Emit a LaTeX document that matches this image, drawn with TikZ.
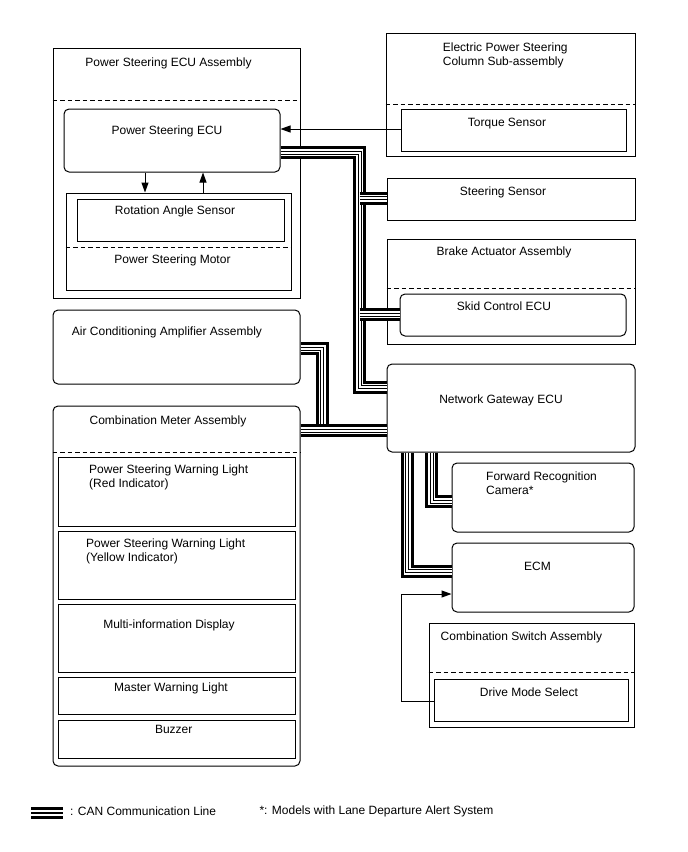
\documentclass[tikz,border=0pt]{standalone}
\usepackage{fontspec}
\setmainfont{Liberation Sans}
\usetikzlibrary{positioning,arrows.meta,calc}

\begin{document}
\begin{tikzpicture}[x=1pt, y=-1pt,
  every node/.style={font=\fontsize{12}{14}\selectfont},
  box/.style   ={draw, line width=1pt, inner sep=0pt},
  rbox/.style  ={box, rounded corners=5pt},
  txt/.style   ={inner sep=0pt},
  txtl/.style  ={inner sep=0pt, align=left, anchor=north west},
  sepline/.style={line width=1pt, dash pattern=on 4.5pt off 3pt},
  arr/.style   ={-{Triangle[length=10pt,width=7pt]}, line width=1pt},
  canline/.style={line width=13pt, black,
                  postaction={draw=white, line width=7pt},
                  postaction={draw=black, line width=4pt},
                  postaction={draw=white, line width=2pt}},
  canlegend/.style={line width=12pt, black,
                  postaction={draw=white, line width=6.5pt},
                  postaction={draw=black, line width=1.3pt}}]

\useasboundingbox (0,0) rectangle (688,852);

%% ── Power steering ECU assembly ─────────────────────────────────
\node[box,  minimum width=247pt, minimum height=250pt] (psa)   at (176.5,173) {};
\node[rbox, minimum width=216pt, minimum height=63pt]  (psecu) at (172,140.5) {};
\node[box,  minimum width=225pt, minimum height=97pt]  (psm)   at (178.5,241.5) {};
\node[box,  minimum width=207pt, minimum height=42pt]  (ras)   at (180.5,220) {};
\draw[sepline] (psa.west |- 0,100) -- (psa.east |- 0,100);
\draw[sepline] (psm.west |- 0,247) -- (psm.east |- 0,247);
\node[txt] (psaT)   at (168.5,63)  {Power Steering ECU Assembly};
\node[txt] (psecuT) at (167,131.5) {Power Steering ECU};
\node[txt] (rasT)   at (175,211.5) {Rotation Angle Sensor};
\node[txt] (psmT)   at (172.5,260) {Power Steering Motor};

%% ── Right column ────────────────────────────────────────────────
\node[box,  minimum width=249pt, minimum height=123pt] (eps)  at (510.5,94.5) {};
\node[box,  minimum width=225pt, minimum height=42pt]  (tqs)  at (513.5,130) {};
\draw[sepline] (eps.west |- 0,104) -- (eps.east |- 0,104);
\node[txtl] (epsT) at (442.7,42.4) {Electric Power Steering\\Column Sub-assembly};
\node[txt]  (tqsT) at (507,123.3)  {Torque Sensor};

\node[box,  minimum width=248pt, minimum height=42pt]  (ss)   at (511,199) {};
\node[txt]  (ssT)  at (503,192.7)  {Steering Sensor};

\node[box,  minimum width=248pt, minimum height=105pt] (baa)  at (511,291.5) {};
\node[rbox, minimum width=226pt, minimum height=42pt]  (skid) at (513,315) {};
\draw[sepline] (baa.west |- 0,288) -- (baa.east |- 0,288);
\node[txt]  (baaT)  at (504,252.7) {Brake Actuator Assembly};
\node[txt]  (skidT) at (504,306.7) {Skid Control ECU};

\node[rbox, minimum width=248pt, minimum height=88pt]  (gw)   at (511,408) {};
\node[txt]  (gwT)  at (501,400.7)  {Network Gateway ECU};

\node[rbox, minimum width=182pt, minimum height=69pt]  (cam)  at (543,497.5) {};
\node[txtl] (camT) at (486,471.7)  {Forward Recognition\\Camera*};

\node[rbox, minimum width=182pt, minimum height=69pt]  (ecm)  at (543,577.5) {};
\node[txt]  (ecmT) at (537.5,566.7) {ECM};

\node[box,  minimum width=205pt, minimum height=104pt] (csa)  at (531.5,675) {};
\node[box,  minimum width=194pt, minimum height=42pt]  (dms)  at (531,700) {};
\draw[sepline] (csa.west |- 0,672.7) -- (csa.east |- 0,672.7);
\node[txt]  (csaT) at (521.4,637.3) {Combination Switch Assembly};
\node[txt]  (dmsT) at (529,692.7)   {Drive Mode Select};

%% ── Left column, lower part ─────────────────────────────────────
\node[rbox, minimum width=247pt, minimum height=74pt]  (aca)  at (176.5,347) {};
\node[txt]  (acaT) at (167,332) {Air Conditioning Amplifier Assembly};

\node[rbox, minimum width=247pt, minimum height=360pt] (cma)  at (176.5,586) {};
\draw[sepline] (cma.west |- 0,452.3) -- (cma.east |- 0,452.3);
\node[txt]  (cmaT) at (168,421.7) {Combination Meter Assembly};

\node[box, minimum width=237pt, minimum height=69pt] (red) at (176.5,491.5) {};
\node[box, minimum width=237pt, minimum height=68pt] (yel) at (176.5,565) {};
\node[box, minimum width=237pt, minimum height=68pt] (mid) at (176.5,638) {};
\node[box, minimum width=237pt, minimum height=37pt] (mwl) at (176.5,695.5) {};
\node[box, minimum width=237pt, minimum height=38pt] (buz) at (176.5,739) {};
\node[txtl] (redT) at (89,464.7) {Power Steering Warning Light\\(Red Indicator)};
\node[txtl] (yelT) at (86,539)   {Power Steering Warning Light\\(Yellow Indicator)};
\node[txt]  (midT) at (169,625)   {Multi-information Display};
\node[txt]  (mwlT) at (171,688.3) {Master Warning Light};
\node[txt]  (buzT) at (173.7,729.3) {Buzzer};

%% ── Signal arrows ───────────────────────────────────────────────
\coordinate (dn)   at (145,0);
\coordinate (up)   at (203,0);
\coordinate (tq)   at (0,129);
\coordinate (drvA) at (401,594);
\coordinate (drvB) at (401,701.7);
\draw[arr] (psecu.south -| dn) -- (psm.north -| dn);
\draw[arr] (psm.north -| up) -- (psecu.south -| up);
\draw[arr] (tqs.west |- tq) -- (psecu.east |- tq);
\draw[arr] (dms.west |- drvB) -- (drvB) -- (drvA) -- (ecm.west |- drvA);

%% ── CAN lines ───────────────────────────────────────────────────
\coordinate (trkTop) at (359.5,152.5);
\coordinate (trkBot) at (359.5,387);
\coordinate (ssTap)  at (359.5,198);
\coordinate (skTap)  at (359.5,314.5);
\coordinate (acTurn) at (322,348.5);
\coordinate (acJoin) at (322,430.5);
\coordinate (camTurn) at (431.5,501.5);
\coordinate (ecmTurn) at (407,571);

\draw[canline] (psecu.east |- trkTop) -- (trkTop) -- (trkBot) -- (gw.west |- trkBot);
\draw[canline] (ssTap) -- (ss.west |- ssTap);
\draw[canline] (skTap) -- (skid.west |- skTap);
\draw[canline] (aca.east |- acTurn) -- (acTurn) -- (acJoin);
\draw[canline] (cma.east |- acJoin) -- (gw.west |- acJoin);
\draw[canline] (gw.south -| camTurn) -- (camTurn) -- (cam.west |- camTurn);
\draw[canline] (gw.south -| ecmTurn) -- (ecmTurn) -- (ecm.west |- ecmTurn);

%% ── Legend ──────────────────────────────────────────────────────
\coordinate (lgA) at (31,813);
\coordinate (lgB) at (63,813);
\draw[canlegend] (lgA) -- (lgB);
\node[txt, anchor=west] (lgT)   at (70,811.7)    {: CAN Communication Line};
\node[txt, anchor=west] (noteT) at (259.3,811.7) {*: Models with Lane Departure Alert System};
\end{tikzpicture}
\end{document}
